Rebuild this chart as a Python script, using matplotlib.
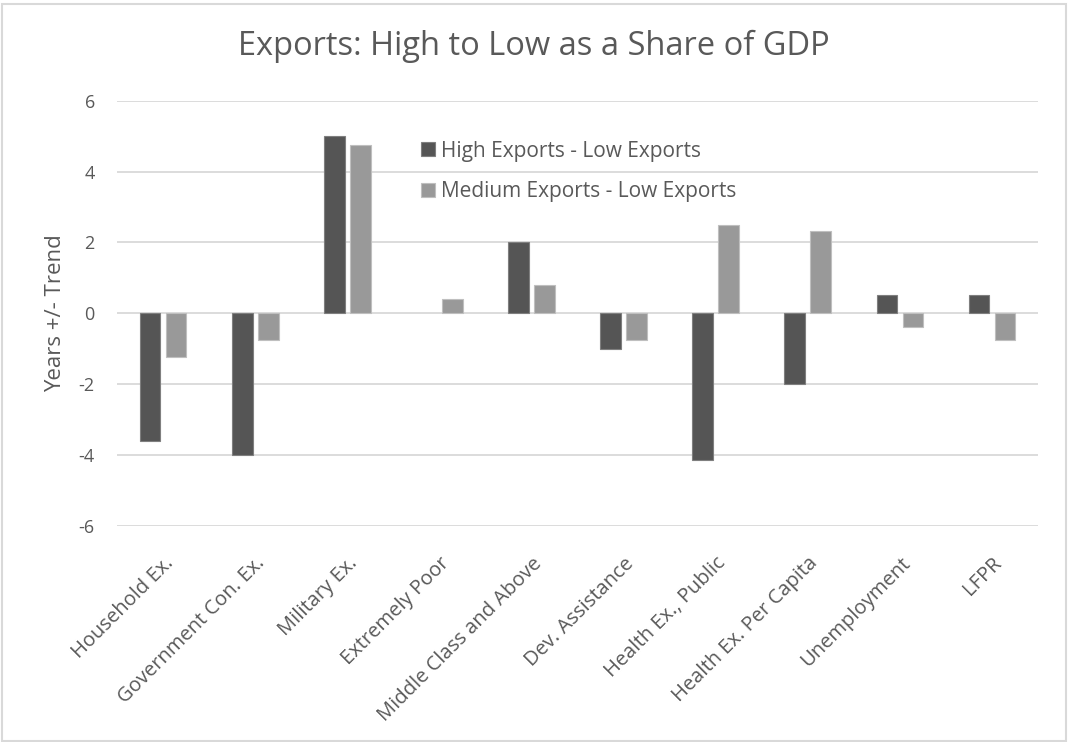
import numpy as np
import matplotlib.pyplot as plt
from matplotlib.patches import Rectangle

categories = ["Household Ex.", "Government Con. Ex.", "Military Ex.", "Extremely Poor",
              "Middle Class and Above", "Dev. Assistance", "Health Ex., Public",
              "Health Ex. Per Capita", "Unemployment", "LFPR"]
high_minus_low = [-3.6, -4.0, 5.0, 0.0, 2.0, -1.0, -4.15, -2.0, 0.5, 0.5]
medium_minus_low = [-1.25, -0.75, 4.75, 0.4, 0.8, -0.75, 2.5, 2.33, -0.4, -0.75]
series_names = ["High Exports - Low Exports", "Medium Exports - Low Exports"]
yticks = [-6, -4, -2, 0, 2, 4, 6]

plt.rcParams["font.family"] = ["Open Sans", "DejaVu Sans"]
text_color = "#595959"

fig = plt.figure(figsize=(10.68, 7.42), dpi=100)
ax = fig.add_axes([0.1096, 0.2915, 0.8624, 0.5728])

x = np.arange(len(categories))
w = 0.225
# no outline on zero-height bars
lw_high = [0.8 if v else 0 for v in high_minus_low]
lw_med = [0.8 if v else 0 for v in medium_minus_low]
ax.bar(x - 0.141, high_minus_low, w, color="#555555", edgecolor="#7f7f7f",
       linewidth=lw_high, label=series_names[0], zorder=3)
ax.bar(x + 0.141, medium_minus_low, w, color="#999999", edgecolor="#bfbfbf",
       linewidth=lw_med, label=series_names[1], zorder=3)

ax.set_xlim(-0.5, len(categories) - 0.5)
ax.set_ylim(-6, 6)
ax.set_yticks(yticks)
ax.set_yticklabels([str(t) for t in yticks])
ax.yaxis.grid(True, color="#d9d9d9", linewidth=1.3, zorder=0)
ax.set_axisbelow(True)
for s in ax.spines.values():
    s.set_visible(False)
ax.tick_params(axis="both", length=0, colors=text_color)
ax.tick_params(axis="y", pad=16, labelsize=13)

ax.set_xticks(x)
ax.set_xticklabels(categories, rotation=45, ha="right", rotation_mode="anchor")
ax.tick_params(axis="x", pad=20, labelsize=14.5)

ax.set_ylabel("Years +/- Trend", color=text_color, fontsize=16, labelpad=9)

# title centred on the whole figure
fig.text(0.5, 0.938, "Exports: High to Low as a Share of GDP", color=text_color,
         fontsize=23.5, ha="center", va="center")

leg = ax.legend(loc="upper left", bbox_to_anchor=(0.31, 0.95), frameon=False,
                fontsize=15, handlelength=0.65, handleheight=0.65,
                handletextpad=0.3, labelspacing=0.95)
for t in leg.get_texts():
    t.set_color(text_color)

# light frame around the whole chart
fig.patches.append(Rectangle((0.002, 0.002), 0.996, 0.992, transform=fig.transFigure,
                             fill=False, edgecolor="#d9d9d9", linewidth=1.5))

fig.savefig("out.png", dpi=100, facecolor="white")
